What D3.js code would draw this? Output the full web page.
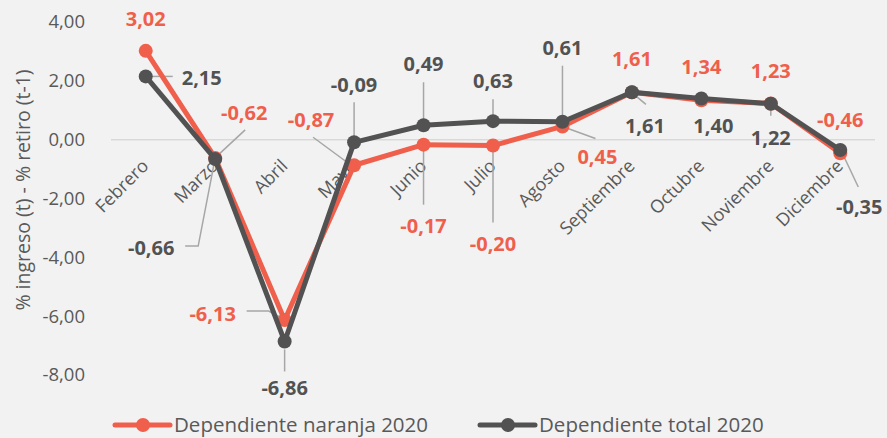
<!DOCTYPE html>
<html><head><meta charset="utf-8">
<script src="https://cdn.jsdelivr.net/npm/d3@7"></script>
<style>body{margin:0;background:#f2f2f2;}svg{display:block;font-family:"Open Sans",sans-serif;}</style>
</head><body>
<svg id="c" width="887" height="438"></svg>
<script>
const categories = ["Febrero","Marzo","Abril","Mayo","Junio","Julio","Agosto","Septiembre","Octubre","Noviembre","Diciembre"];
const naranja = [3.02,-0.62,-6.13,-0.87,-0.17,-0.20,0.45,1.61,1.34,1.23,-0.46];
const total = [2.15,-0.66,-6.86,-0.09,0.49,0.63,0.61,1.61,1.40,1.22,-0.35];
const yTicks = [4,2,0,-2,-4,-6,-8];
const seriesNames = ["Dependiente naranja 2020","Dependiente total 2020"];

// layout of data labels (offset from point) and leader lines
const naranjaLabel = [
 {dx:0,dy:-32},{dx:29,dy:-45,l:[[2,-2],[30,-28]]},{dx:-72,dy:-6,l:[[-1,-1],[-16,-9],[-38,-9]]},
 {dx:-43,dy:-45,l:[[-3,0],[-41,-28]]},{dx:0,dy:81,l:[[0,5],[0,60]]},{dx:0,dy:98,l:[[0,5],[0,77]]},
 {dx:35,dy:31,l:[[0,0],[33,12]]},{dx:0,dy:-33},{dx:0,dy:-33},{dx:0,dy:-32},{dx:0,dy:-33}];
const totalLabel = [
 {dx:56,dy:2,l:[[3,0],[27,0]]},{dx:-64,dy:89,l:[[-1,4],[-17,87],[-30,87]]},{dx:0,dy:47,l:[[0,8],[0,30]]},
 {dx:0,dy:-57,l:[[0,-5],[0,-40]]},{dx:0,dy:-61,l:[[0,-5],[0,-43]]},{dx:0,dy:-40,l:[[0,-5],[0,-22]]},
 {dx:0,dy:-74,l:[[0,-5],[0,-56]]},{dx:13,dy:34,l:[[2,2],[14,12]]},{dx:12,dy:28},{dx:0,dy:34,l:[[0,0],[0,12]]},
 {dx:19,dy:57,l:[[2,3],[18,37]]}];

const colors = ["#ef5f4c","#525252"];
const svg = d3.select("#c");
const x = d3.scaleBand().domain(categories).range([111,875]);
const y = d3.scaleLinear().domain([-8,4]).range([375,22]);
const cx = c => x(c)+x.bandwidth()/2;
const fmt = v => d3.format(".2f")(v).replace(".",",").replace("\u2212","-");

// zero gridline
svg.append("line").attr("x1",111).attr("x2",875).attr("y1",y(0)).attr("y2",y(0))
  .attr("stroke","#d9d9d9").attr("stroke-width",1.5);

// y axis labels
svg.append("g").selectAll("text").data(yTicks).join("text")
  .attr("x",85).attr("y",d=>y(d)).attr("dy","0.35em").attr("text-anchor","end")
  .attr("font-size",18.5).attr("fill","#595959").text(d=>fmt(d));

svg.append("text").attr("transform","translate(23,190) rotate(-90)").attr("text-anchor","middle")
  .attr("dy","0.35em").attr("font-size",19.5).attr("fill","#595959").text("% ingreso (t) - % retiro (t-1)");

// category labels
svg.append("g").selectAll("text").data(categories).join("text")
  .attr("transform",d=>`translate(${cx(d)+4},167) rotate(-45)`).attr("text-anchor","end")
  .attr("font-size",18).attr("fill","#595959").text(d=>d);

const line = d3.line().x((d,i)=>cx(categories[i])).y(d=>y(d));
const series = [naranja,total];
const labels = [naranjaLabel,totalLabel];

// leader lines
series.forEach((s,si)=>{
  const pts = s.map((v,i)=>({v,i,lay:labels[si][i]})).filter(d=>d.lay.l);
  svg.append("g").selectAll("polyline").data(pts).join("polyline")
    .attr("points",d=>d.lay.l.map(p=>[cx(categories[d.i])+p[0],y(d.v)+p[1]].join(",")).join(" "))
    .attr("fill","none").attr("stroke","#a6a6a6").attr("stroke-width",1.5);
});

series.forEach((s,si)=>{
  svg.append("path").datum(s).attr("d",line).attr("fill","none")
    .attr("stroke",colors[si]).attr("stroke-width",5).attr("stroke-linejoin","round");
  svg.append("g").selectAll("circle").data(s).join("circle")
    .attr("cx",(d,i)=>cx(categories[i])).attr("cy",d=>y(d)).attr("r",7).attr("fill",colors[si]);
});

series.forEach((s,si)=>{
  svg.append("g").selectAll("text").data(s).join("text")
    .attr("x",(d,i)=>cx(categories[i])+labels[si][i].dx).attr("y",(d,i)=>y(d)+labels[si][i].dy)
    .attr("dy","0.35em").attr("text-anchor","middle").attr("font-size",20).attr("font-weight","bold")
    .attr("fill",colors[si]).text(d=>fmt(d));
});

// legend
const legX = [115,480];
seriesNames.forEach((n,i)=>{
  const g = svg.append("g");
  g.append("line").attr("x1",legX[i]).attr("x2",legX[i]+55).attr("y1",425).attr("y2",425)
    .attr("stroke",colors[i]).attr("stroke-width",5).attr("stroke-linecap","round");
  g.append("circle").attr("cx",legX[i]+28).attr("cy",425).attr("r",7).attr("fill",colors[i]);
  g.append("text").attr("x",legX[i]+59).attr("y",425).attr("dy","0.35em").attr("font-size",20.5)
    .attr("fill","#595959").text(n);
});
</script>
</body></html>
